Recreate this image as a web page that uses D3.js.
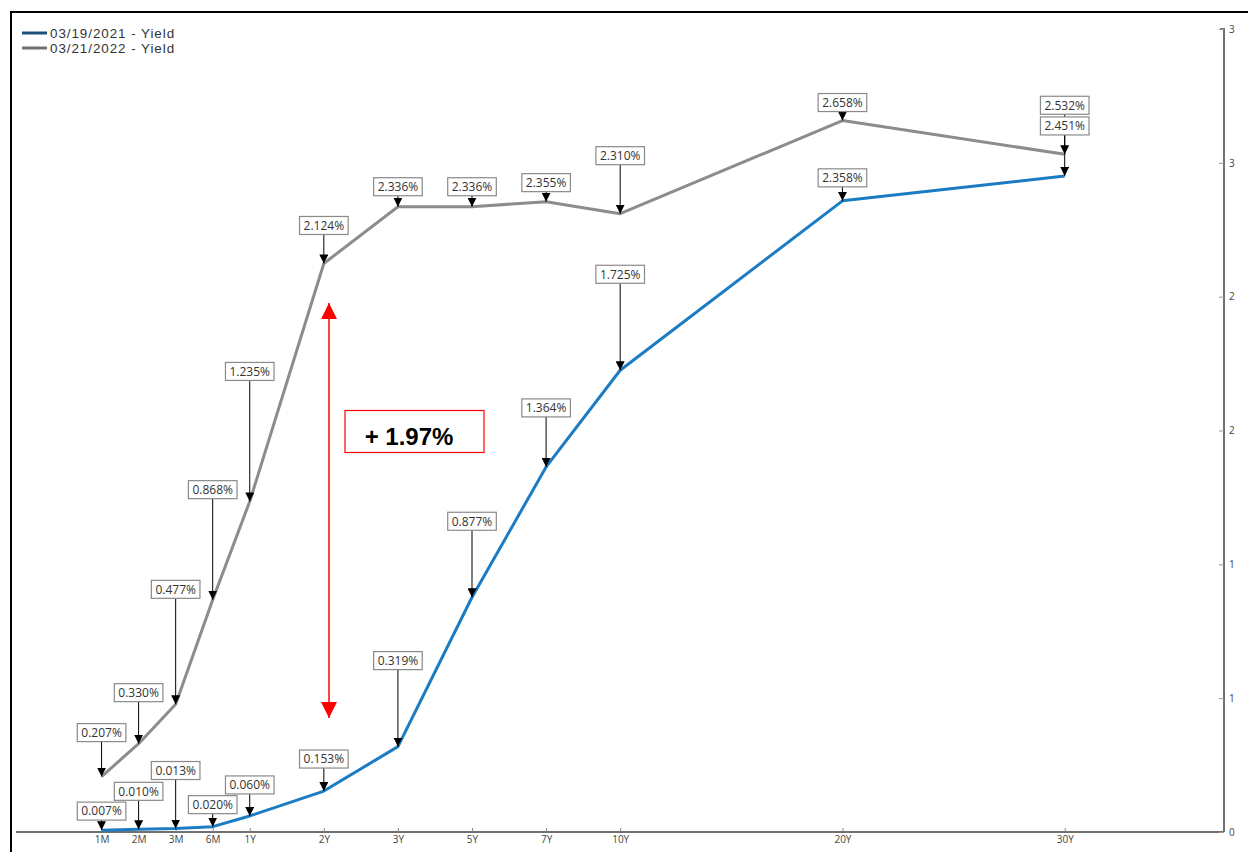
<!DOCTYPE html>
<html>
<head>
<meta charset="utf-8">
<script src="https://cdn.jsdelivr.net/npm/d3@7"></script>
<style>
  html, body { margin: 0; padding: 0; background: #fff; }
  svg { display: block; }
</style>
</head>
<body>
<svg id="chart" width="1248" height="852"></svg>
<script>
// Treasury tenors and where each sits along the horizontal axis (slot units)
const tenors = ["1M", "2M", "3M", "6M", "1Y", "2Y", "3Y", "5Y", "7Y", "10Y", "20Y", "30Y"];
const tenorSlots = [0, 1, 2, 3, 4, 6, 8, 10, 12, 14, 20, 26];

// Yields (%) on the two dates
const yields2021 = [0.007, 0.010, 0.013, 0.020, 0.060, 0.153, 0.319, 0.877, 1.364, 1.725, 2.358, 2.451];
const yields2022 = [0.207, 0.330, 0.477, 0.868, 1.235, 2.124, 2.336, 2.336, 2.355, 2.310, 2.658, 2.532];

const seriesNames = ["03/19/2021 - Yield", "03/21/2022 - Yield"];
const yTicks = [0, 0.5, 1, 1.5, 2, 2.5, 3];

// Callout placement: how far (px) each value box floats above its point
const lift2021 = [19, 38, 58, 22, 31, 32, 86, 76, 59, 96, 23, 50];
const lift2022 = [44, 51, 115, 110, 130, 38, 20, 20, 19, 58, 18, 49];

const svg = d3.select("#chart");

const x = d3.scaleLinear().domain([-2.31, 30.3]).range([16, 1224]);
const y = d3.scaleLinear().domain([0, 3]).range([832, 29]);

const lineColor = { y21: "#1b7bc3", y22: "#8c8c8c" };
const legendColor = ["#1d4f7c", "#707070"];

// outer frame
svg.append("path")
  .attr("d", "M11,860 L11,12 L1260,12")
  .attr("fill", "none").attr("stroke", "#000").attr("stroke-width", 2);

// arrowhead markers
const defs = svg.append("defs");
defs.append("marker")
  .attr("id", "tip").attr("viewBox", "0 0 10 10")
  .attr("refX", 10).attr("refY", 5)
  .attr("markerWidth", 9).attr("markerHeight", 9)
  .attr("markerUnits", "userSpaceOnUse")
  .attr("orient", "auto")
  .append("path").attr("d", "M0,0 L10,5 L0,10 Z").attr("fill", "#000");
defs.append("marker")
  .attr("id", "redTip").attr("viewBox", "0 0 10 10")
  .attr("refX", 10).attr("refY", 5)
  .attr("markerWidth", 16).attr("markerHeight", 16)
  .attr("markerUnits", "userSpaceOnUse")
  .attr("orient", "auto-start-reverse")
  .append("path").attr("d", "M0,0 L10,5 L0,10 Z").attr("fill", "#ff0000");

// bottom axis
const xAxis = d3.axisBottom(x)
  .tickValues(tenorSlots)
  .tickFormat((d, i) => tenors[i])
  .tickSize(0);
const gx = svg.append("g").attr("transform", `translate(0,${y(0)})`).call(xAxis);
gx.select(".domain").attr("stroke", "#707070").attr("stroke-width", 2)
  .attr("d", `M${x.range()[0]},0H${x.range()[1]}`);
gx.selectAll(".tick line").attr("y1", -4).attr("y2", 0).attr("stroke", "#888");
gx.selectAll(".tick text")
  .attr("y", 4).attr("dy", "0.71em")
  .attr("fill", "#444").attr("font-family", "'Open Sans', sans-serif").attr("font-size", 10);

// right axis
const yAxis = d3.axisRight(y)
  .tickValues(yTicks)
  .tickFormat(d3.format("d"))
  .tickSize(0);
const gy = svg.append("g").attr("transform", `translate(${x.range()[1]},0)`).call(yAxis);
gy.select(".domain").attr("stroke", "#707070").attr("stroke-width", 2)
  .attr("d", `M-4,${y(3)}H0V${y(0)}`);
gy.selectAll(".tick line").attr("x1", -5).attr("x2", 0).attr("stroke", "#999");
gy.selectAll(".tick text")
  .attr("x", 5).attr("fill", "#444")
  .attr("font-family", "'Open Sans', sans-serif").attr("font-size", 10);

// yield curves
const curve = d3.line().x((d, i) => x(tenorSlots[i])).y(d => y(d));
svg.append("path").datum(yields2022)
  .attr("d", curve).attr("fill", "none")
  .attr("stroke", lineColor.y22).attr("stroke-width", 3).attr("stroke-linejoin", "round");
svg.append("path").datum(yields2021)
  .attr("d", curve).attr("fill", "none")
  .attr("stroke", lineColor.y21).attr("stroke-width", 3).attr("stroke-linejoin", "round");

// value callouts
function callouts(values, lifts) {
  const g = svg.append("g");
  values.forEach((v, i) => {
    const px = x(tenorSlots[i]);
    const py = y(v);
    const cy = py - lifts[i];
    const item = g.append("g");
    const t = item.append("text")
      .attr("x", px).attr("y", cy).attr("dy", "0.36em")
      .attr("text-anchor", "middle")
      .attr("font-family", "'Open Sans', sans-serif").attr("font-size", 12)
      .attr("fill", "#333")
      .text(v.toFixed(3) + "%");
    const bb = t.node().getBBox();
    const w = bb.width + 8, h = 18;
    item.insert("line", "text")
      .attr("x1", px).attr("x2", px)
      .attr("y1", cy + h / 2).attr("y2", py)
      .attr("stroke", "#000").attr("stroke-width", 1)
      .attr("marker-end", "url(#tip)");
    item.insert("rect", "text")
      .attr("x", px - w / 2).attr("y", cy - h / 2)
      .attr("width", w).attr("height", h)
      .attr("fill", "#fff").attr("stroke", "#8a8a8a").attr("stroke-width", 1.2);
  });
}
callouts(yields2022, lift2022);
callouts(yields2021, lift2021);

// 2Y spread annotation
const i2y = tenors.indexOf("2Y");
const spread = yields2022[i2y] - yields2021[i2y];
const spreadSlot = 6.14;
svg.append("line")
  .attr("x1", x(spreadSlot)).attr("x2", x(spreadSlot))
  .attr("y1", y(1.976)).attr("y2", y(0.426))
  .attr("stroke", "#ff0000").attr("stroke-width", 1.5)
  .attr("marker-start", "url(#redTip)").attr("marker-end", "url(#redTip)");
svg.append("rect")
  .attr("x", 345).attr("y", 410.5).attr("width", 139).attr("height", 42)
  .attr("fill", "#fff").attr("stroke", "#ff0000").attr("stroke-width", 1.2);
svg.append("text")
  .attr("x", 409).attr("y", 444.5)
  .attr("text-anchor", "middle")
  .attr("font-family", "'Liberation Sans', Arial, sans-serif")
  .attr("font-weight", "bold").attr("font-size", 24).attr("fill", "#000")
  .text("+ " + spread.toFixed(2) + "%");

// legend
const legend = svg.append("g");
const legendTop = 33, legendStep = 15;
seriesNames.forEach((name, i) => {
  const ly = legendTop + i * legendStep;
  legend.append("line")
    .attr("x1", 22).attr("x2", 47).attr("y1", ly).attr("y2", ly)
    .attr("stroke", legendColor[i]).attr("stroke-width", 3);
  legend.append("text")
    .attr("x", 50).attr("y", ly).attr("dy", "0.36em")
    .attr("font-family", "'Liberation Sans', Arial, sans-serif").attr("font-size", 13.4)
    .attr("letter-spacing", 0.95)
    .attr("fill", "#333")
    .text(name);
});
</script>
</body>
</html>
